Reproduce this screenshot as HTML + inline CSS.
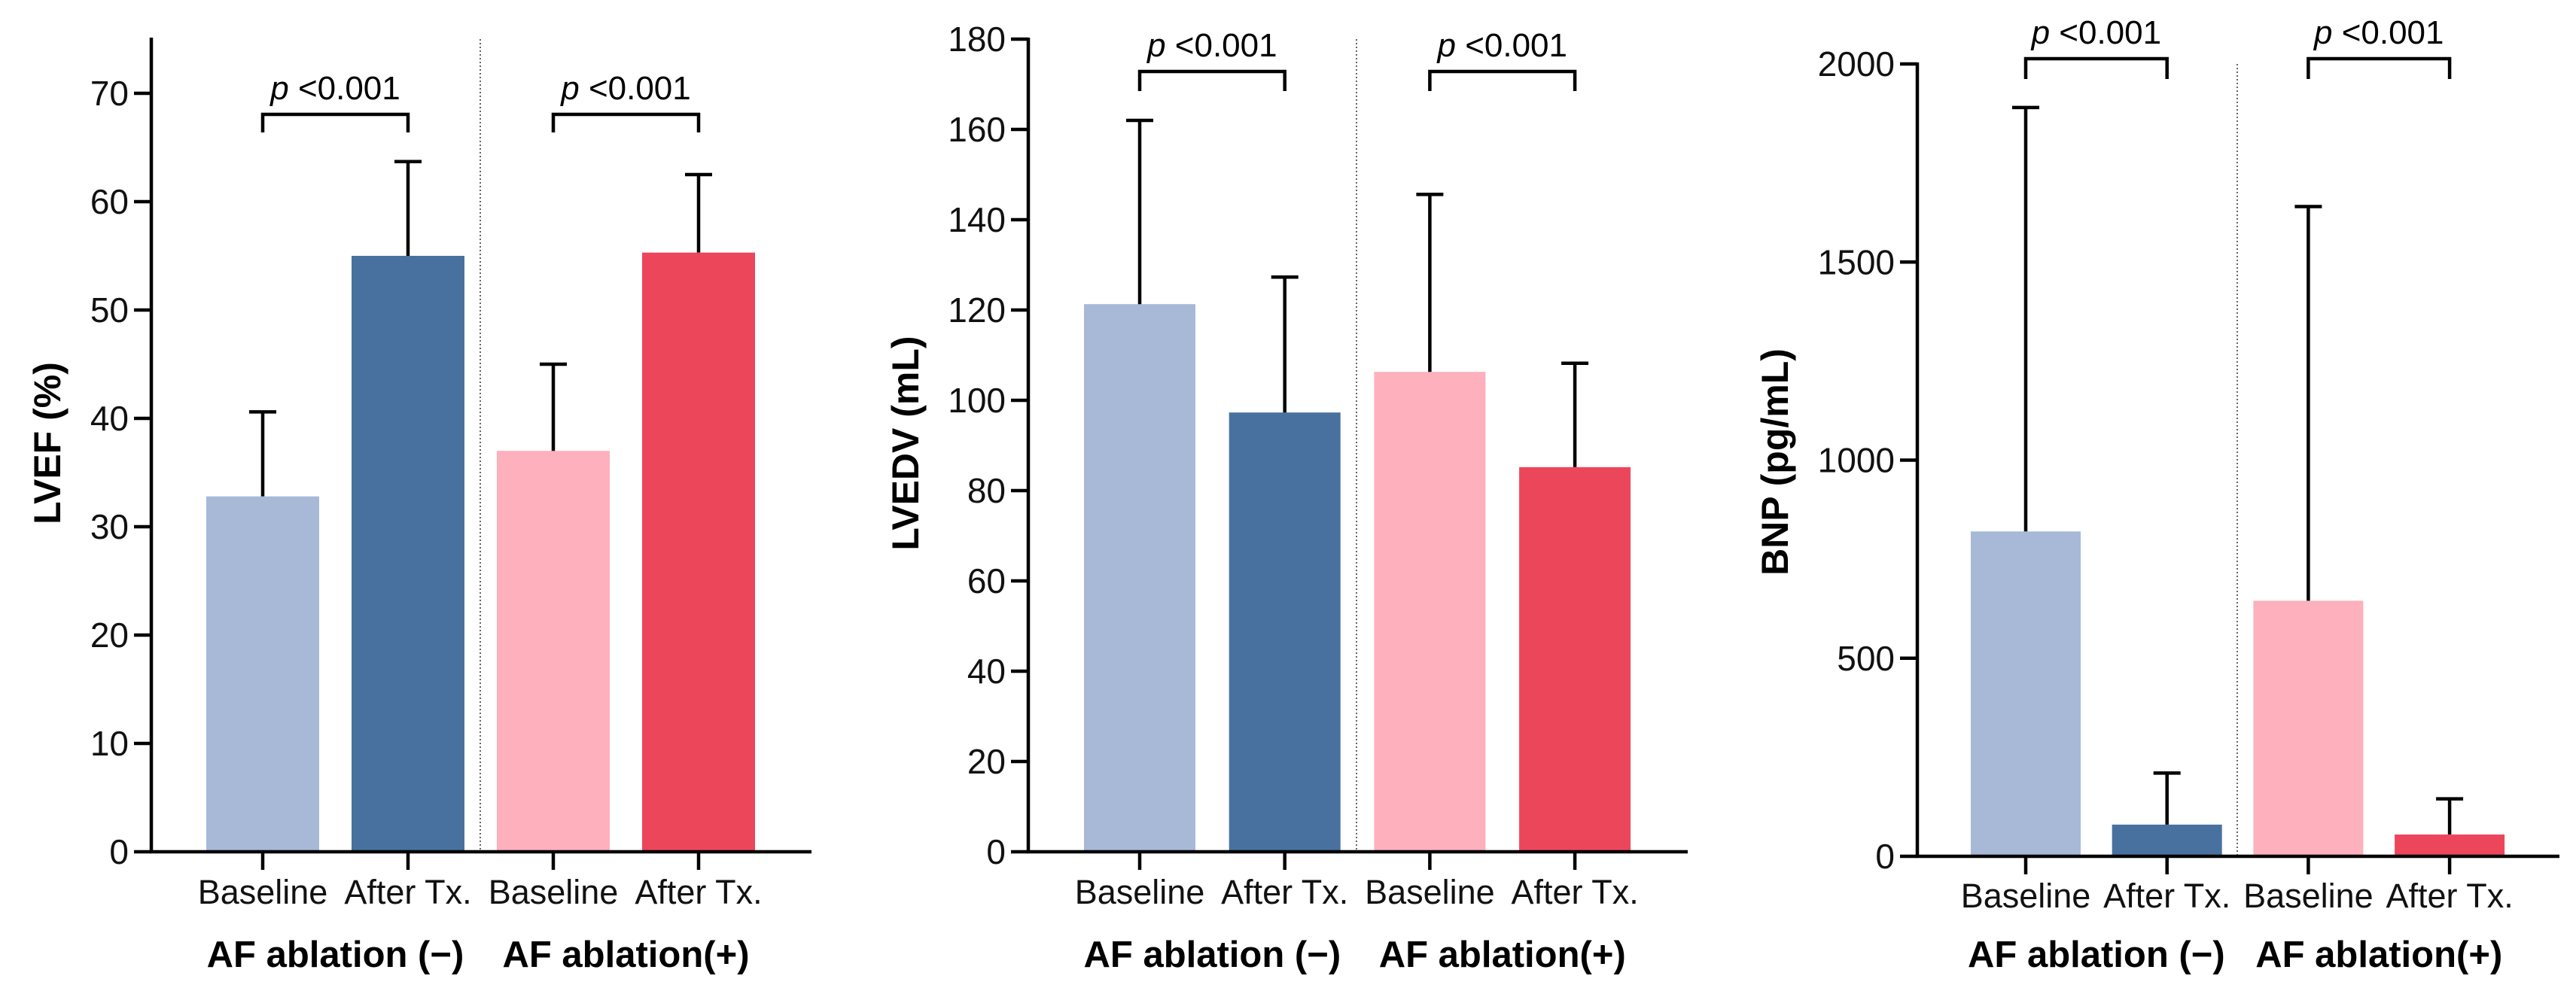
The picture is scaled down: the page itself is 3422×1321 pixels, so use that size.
<!DOCTYPE html>
<html><head><meta charset="utf-8"><style>
html,body{margin:0;padding:0;background:#fff;}
svg{display:block;font-family:"Liberation Sans",Arial,sans-serif;}
</style></head><body>
<svg id="fig" width="3422" height="1321" viewBox="0 0 3422 1321" xmlns="http://www.w3.org/2000/svg"></svg>
<script>
const categories = ["Baseline","After Tx.","Baseline","After Tx."];
const groupLabels = ["AF ablation (\u2212)","AF ablation(+)"];
const colors = ["#a7b9d7","#48719f","#feb0bd","#ec465b"];
const lvefMeans = [32.8, 55.0, 37.0, 55.3];
const lvefErr = [40.6, 63.7, 45.0, 62.5];
const lvefTicks = [0,10,20,30,40,50,60,70];
const lvedvMeans = [121.3, 97.3, 106.3, 85.2];
const lvedvErr = [162, 127.3, 145.6, 108.2];
const lvedvTicks = [0,20,40,60,80,100,120,140,160,180];
const bnpMeans = [820, 80, 645, 55];
const bnpErr = [1890, 210, 1640, 145];
const bnpTicks = [0,500,1000,1500,2000];
const pLabels = ["<0.001","<0.001"];

const NS="http://www.w3.org/2000/svg";
const svg=document.getElementById('fig');
function mk(tag,attrs,parent){const e=document.createElementNS(NS,tag);for(const k in attrs)e.setAttribute(k,attrs[k]);(parent||svg).appendChild(e);return e;}

const panels=[
 {name:"lvef",title:"LVEF (%)",means:lvefMeans,err:lvefErr,ticks:lvefTicks,ymax:75,axX:201,axEnd:1078,y0:1132,yTop:52,bar0:274,step:193,bw:150,sep:638,brY:152,brLeg:176,titleX:62,titleY:589,catY:1201,grpY:1285},
 {name:"lvedv",title:"LVEDV (mL)",means:lvedvMeans,err:lvedvErr,ticks:lvedvTicks,ymax:180,axX:1366,axEnd:2242,y0:1132,yTop:52,bar0:1440,step:192.7,bw:148,sep:1802,brY:95,brLeg:121,titleX:1202,titleY:589,catY:1201,grpY:1285},
 {name:"bnp",title:"BNP (pg/mL)",means:bnpMeans,err:bnpErr,ticks:bnpTicks,ymax:2000,axX:2547,axEnd:3400,y0:1138,yTop:85,bar0:2618,step:187.7,bw:146,sep:2972,brY:78,brLeg:105,titleX:2357,titleY:614,catY:1206,grpY:1285}
];

panels.forEach(p=>{
  const g=mk('g',{});
  
  
  const y=v=>p.y0-(v/p.ymax)*(p.y0-p.yTop);
  const cx=i=>p.bar0+i*p.step+p.bw/2;
  p.means.forEach((m,i)=>{
    const r=mk('rect',{x:cx(i)-p.bw/2,y:y(m),width:p.bw,height:p.y0-y(m),fill:colors[i]},g);
    
    
  });
  p.err.forEach((e,i)=>{
    const eg=mk('g',{stroke:'#000','stroke-width':4.5},g);
    
    
    mk('line',{x1:cx(i),x2:cx(i),y1:y(p.means[i]),y2:y(e)},eg);
    mk('line',{x1:cx(i)-18,x2:cx(i)+18,y1:y(e),y2:y(e)},eg);
  });
  const sp=mk('line',{x1:p.sep,x2:p.sep,y1:p.yTop,y2:p.y0,stroke:'#333','stroke-width':1.5,'stroke-dasharray':'2,3'},g);
  
  
  const ya=mk('line',{x1:p.axX,x2:p.axX,y1:p.yTop-2,y2:p.y0+2,stroke:'#000','stroke-width':4.5},g);
  
  
  const xa=mk('line',{x1:p.axX-2,x2:p.axEnd,y1:p.y0,y2:p.y0,stroke:'#000','stroke-width':4.5},g);
  
  
  p.ticks.forEach(t=>{
    mk('line',{x1:p.axX-23,x2:p.axX,y1:y(t),y2:y(t),stroke:'#000','stroke-width':4.5},g);
    const tx=mk('text',{x:p.axX-30,y:y(t)+16,'font-size':46,'text-anchor':'end',fill:'#111'},g);
    tx.textContent=t;
    
    
  });
  categories.forEach((c,i)=>{
    mk('line',{x1:cx(i),x2:cx(i),y1:p.y0,y2:p.y0+24,stroke:'#000','stroke-width':4.5},g);
    const tx=mk('text',{x:cx(i),y:p.catY,'font-size':45,'text-anchor':'middle',fill:'#111'},g);
    tx.textContent=c;
    
    
  });
  groupLabels.forEach((gl,k)=>{
    const mid=(cx(2*k)+cx(2*k+1))/2;
    const tx=mk('text',{x:mid,y:p.grpY,'font-size':49,'font-weight':'bold','text-anchor':'middle',fill:'#000'},g);
    tx.textContent=gl;
    
    
    const b=mk('path',{d:`M${cx(2*k)},${p.brLeg} V${p.brY} H${cx(2*k+1)} V${p.brLeg}`,fill:'none',stroke:'#000','stroke-width':4.5},g);
    
    
    const pt=mk('text',{x:mid,y:p.brY-20,'font-size':44,'text-anchor':'middle',fill:'#000'},g);
    pt.innerHTML='<tspan font-style="italic">p</tspan> '+pLabels[k].replace('<','&lt;');
    
    
  });
  const tt=mk('text',{x:p.titleX,y:p.titleY,'font-size':50,'font-weight':'bold','text-anchor':'middle',transform:`rotate(-90 ${p.titleX} ${p.titleY})`,dy:18,fill:'#000'},g);
  tt.textContent=p.title;
  
  
});
</script>
</body></html>
